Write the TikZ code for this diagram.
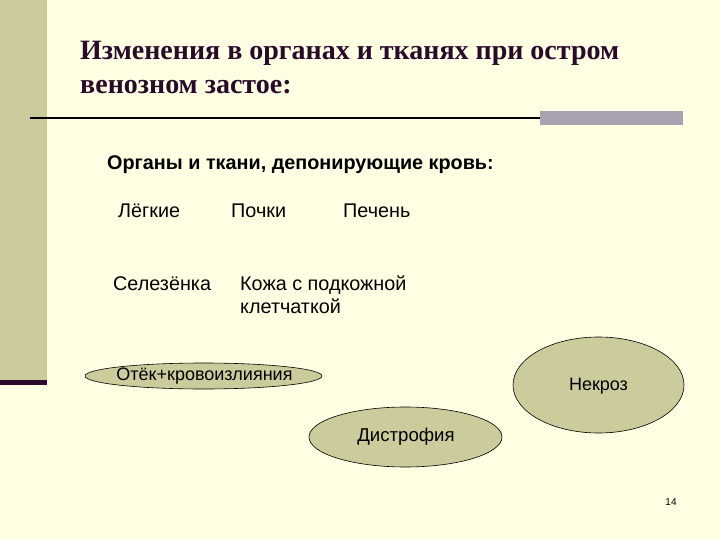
\documentclass[tikz,border=0pt]{standalone}
\usepackage{fontspec}
\setmainfont{Liberation Sans}
\newfontfamily\titlefont{Liberation Serif}
\usetikzlibrary{shapes.geometric}
\definecolor{bg}{HTML}{FFFFE3}
\definecolor{olive}{HTML}{CBCB9B}
\definecolor{dpurple}{HTML}{2A0A2A}
\definecolor{gbar}{HTML}{A8A2B0}
\tikzset{
  bodytext/.style={anchor=base west, font=\fontsize{19.8}{23}\selectfont, inner sep=0pt},
  titletext/.style={anchor=base west, inner sep=0pt, text=dpurple, font=\titlefont\bfseries\fontsize{28}{32}\selectfont},
  ovalshape/.style={ellipse, draw=black, fill=olive, line width=0.6pt, inner sep=0pt},
  ovaltext/.style={inner sep=0pt, font=\fontsize{18}{21}\selectfont}
}
\begin{document}
\begin{tikzpicture}[x=1pt,y=-1pt]
\useasboundingbox (0,0) rectangle (720,540);
\fill[bg] (0,0) rectangle (720,540);
% left bar
\fill[olive] (0,0) rectangle (47,380);
\fill[dpurple] (0,380) rectangle (47,385);
% title
\node[titletext] (t1) at (80,60) {Изменения в органах и тканях при остром};
\node[titletext] (t2) at (80,94) {венозном застое:};
% rule
\coordinate (r1) at (30,118);
\coordinate (r2) at (540,118);
\draw[line width=2pt, black] (r1) -- (r2);
\fill[gbar] (540,111) rectangle (683,125);
% body
\node[bodytext, font=\bfseries\fontsize{19.8}{23}\selectfont] (h) at (107,170) {Органы и ткани, депонирующие кровь:};
\node[bodytext] (l) at (118,218) {Лёгкие};
\node[bodytext] (p) at (231,218) {Почки};
\node[bodytext] (pe) at (343,218) {Печень};
\node[bodytext] (s) at (113,290) {Селезёнка};
\node[bodytext] (k1) at (240,290) {Кожа с подкожной};
\node[bodytext] (k2) at (240,313) {клетчаткой};
% ovals
\node[ovalshape, minimum width=237pt, minimum height=26pt] (oe) at (203.5,376) {};
\node[ovaltext] (o) at (204.5,376) {Отёк+кровоизлияния};
\node[ovalshape, minimum width=171pt, minimum height=96pt] (ne) at (598.5,385) {};
\node[ovaltext] (n) at (598.5,386) {Некроз};
\node[ovalshape, minimum width=193pt, minimum height=60pt] (de) at (405.5,437) {};
\node[ovaltext, font=\fontsize{18.6}{21}\selectfont] (d) at (406,437) {Дистрофия};
% page number
\node[anchor=base, inner sep=0pt, font=\fontsize{10}{12}\selectfont] (pg) at (671,505) {14};
\end{tikzpicture}
\end{document}
